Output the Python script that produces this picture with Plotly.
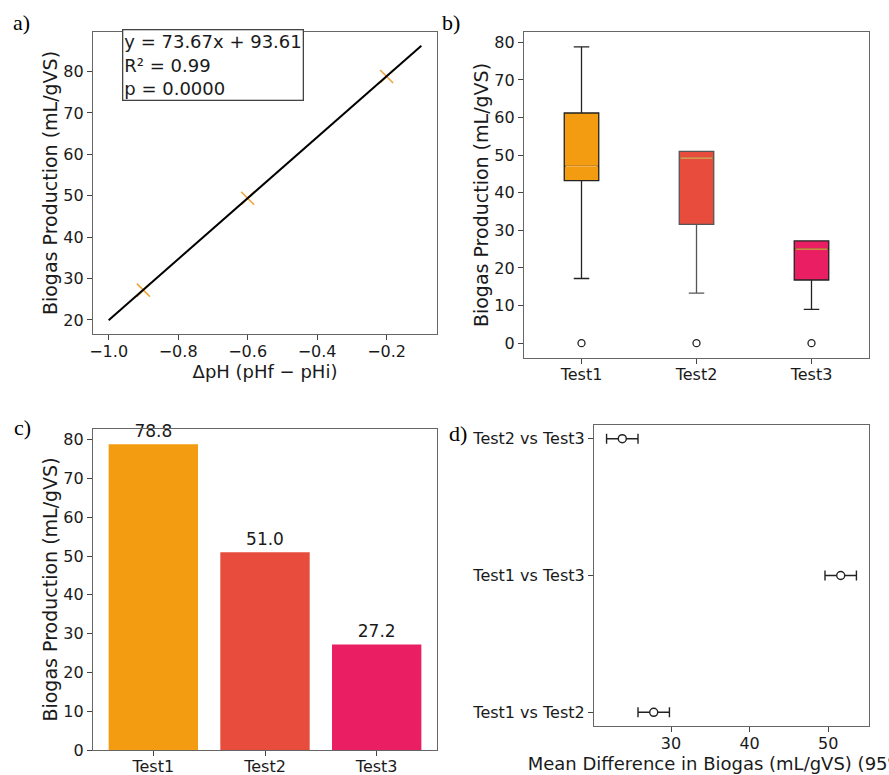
import numpy as np
import plotly.graph_objects as go

# ---------------- data ----------------
tests = ["Test1", "Test2", "Test3"]
colors = ["#F39C12", "#E74C3C", "#E91E63"]

# panel a: pH change vs biogas
delta_ph = [-0.9, -0.6, -0.2]
biogas_pts = [27.2, 49.4, 78.8]
fit_slope, fit_intercept = 73.67, 93.61
fit_x = [-1.0, -0.1]
fit_text = ["y = 73.67x + 93.61", "R² = 0.99", "p = 0.0000"]
a_xticks = [-1.0, -0.8, -0.6, -0.4, -0.2]
a_yticks = [20, 30, 40, 50, 60, 70, 80]

# panel b: box statistics
box_low = [17.2, 13.3, 9.0]
box_q1 = [43.2, 31.6, 16.8]
box_med = [47.0, 49.2, 25.0]
box_q3 = [61.2, 51.0, 27.2]
box_high = [78.8, 51.0, 27.2]
box_outlier = [0.0, 0.0, 0.0]
whisker_colors = ["#222222", "#555555", "#222222"]
b_yticks = [0, 10, 20, 30, 40, 50, 60, 70, 80]

# panel c: maximum biogas
bar_values = [78.8, 51.0, 27.2]
c_yticks = [0, 10, 20, 30, 40, 50, 60, 70, 80]

# panel d: pairwise mean differences with 95% CI
pairs = ["Test1 vs Test2", "Test1 vs Test3", "Test2 vs Test3"]
mean_diff = [27.8, 51.6, 23.8]
ci_half = [2.0, 2.0, 2.0]
d_xticks = [30, 40, 50]

# ---------------- figure ----------------
W, H = 889, 775
FONT = "DejaVu Sans"
TXT = "#1a1a1a"
SPINE = "#666666"

def px_x(a, b):
    return [a / W, b / W]

def px_y(top, bottom):
    return [1 - bottom / H, 1 - top / H]

fig = go.Figure()

# --- panel a ---
fig.add_trace(go.Scatter(
    x=delta_ph, y=biogas_pts, mode="markers", xaxis="x", yaxis="y",
    marker=dict(symbol="x-thin", size=13, color="#F0A53A",
                line=dict(color="#F0A53A", width=1.6)),
    showlegend=False, hoverinfo="skip"))
fit_y = [fit_slope * v + fit_intercept for v in fit_x]
fig.add_trace(go.Scatter(
    x=fit_x, y=fit_y, mode="lines", xaxis="x", yaxis="y",
    line=dict(color="black", width=2), showlegend=False))

# --- panel b ---
bw = 0.3
for i, t in enumerate(tests):
    fig.add_trace(go.Box(
        x=[i], q1=[box_q1[i]], median=[box_med[i]], q3=[box_q3[i]],
        lowerfence=[box_low[i]], upperfence=[box_high[i]],
        xaxis="x2", yaxis="y2", width=bw, whiskerwidth=0.45,
        fillcolor=colors[i], line=dict(color=whisker_colors[i], width=1.3),
        boxpoints=False, showlegend=False, name=t))
for i, t in enumerate(tests):
    fig.add_trace(go.Scatter(
        x=[i - bw / 2 + 0.01, i + bw / 2 - 0.01], y=[box_med[i], box_med[i]],
        mode="lines", xaxis="x2", yaxis="y2",
        line=dict(color="#F7B04A", width=1.4), showlegend=False))
fig.add_trace(go.Scatter(
    x=list(range(len(tests))), y=box_outlier, mode="markers",
    xaxis="x2", yaxis="y2",
    marker=dict(symbol="circle-open", size=7, color="#222",
                line=dict(width=1.3, color="#222")),
    showlegend=False))

# --- panel c ---
fig.add_trace(go.Bar(
    x=list(range(len(tests))), y=bar_values, width=0.8,
    marker=dict(color=colors, line=dict(width=0)),
    text=[f"{v:.1f}" for v in bar_values], textposition="outside",
    textfont=dict(family=FONT, size=17, color=TXT), cliponaxis=False,
    xaxis="x3", yaxis="y3", showlegend=False))

# --- panel d ---
fig.add_trace(go.Scatter(
    x=mean_diff, y=list(range(len(pairs))), mode="markers",
    xaxis="x4", yaxis="y4",
    error_x=dict(type="data", array=ci_half, visible=True,
                 color="#222", thickness=1.4, width=5),
    marker=dict(symbol="circle", size=8, color="white",
                line=dict(color="#222", width=1.4)),
    showlegend=False))

def ax(domain, **kw):
    base = dict(domain=domain, showline=True, mirror=True, linecolor=SPINE,
                linewidth=1.2, ticks="outside", ticklen=5, tickwidth=1.1,
                tickcolor="#444", showgrid=False, zeroline=False,
                automargin=False,
                tickfont=dict(family=FONT, size=16, color=TXT),
                title_font=dict(family=FONT, size=18, color=TXT))
    base.update(kw)
    return base

ytitle = "Biogas Production (mL/gVS)"

fig.update_layout(
    width=W, height=H, margin=dict(l=0, r=0, t=0, b=0, autoexpand=False),
    paper_bgcolor="white", plot_bgcolor="white",
    font=dict(family=FONT, color=TXT),
    xaxis=ax(px_x(93, 437), anchor="y", range=[-1.045, -0.055],
             tickvals=a_xticks, tickformat=".1f", ticklabelstandoff=-2,
             title=dict(text="ΔpH (pHf − pHi)", standoff=4)),
    yaxis=ax(px_y(32, 334), anchor="x", range=[16.6, 89.55],
             tickvals=a_yticks,
             title=dict(text=ytitle, standoff=0, font=dict(size=19))),
    xaxis2=ax(px_x(524, 869), anchor="y2", range=[-0.5, 2.5],
              tickvals=[0, 1, 2], ticktext=tests, ticklabelstandoff=-3),
    yaxis2=ax(px_y(32, 358), anchor="x2", range=[-3.94, 82.74],
              tickvals=b_yticks,
              title=dict(text=ytitle, standoff=0, font=dict(size=19))),
    xaxis3=ax(px_x(93, 437), anchor="y3", range=[-0.54, 2.54],
              tickvals=[0, 1, 2], ticktext=tests, ticklabelstandoff=-3),
    yaxis3=ax(px_y(429, 750), anchor="x3", range=[0, 82.74],
              tickvals=c_yticks,
              title=dict(text=ytitle, standoff=0, font=dict(size=19))),
    xaxis4=ax(px_x(594, 869), anchor="y4", range=[20.2, 55.2],
              tickvals=d_xticks, ticklabelstandoff=-2,
              title=dict(text="Mean Difference in Biogas (mL/gVS) (95% CI)",
                         standoff=4)),
    yaxis4=ax(px_y(425, 726), anchor="x4", range=[-0.1, 2.1],
              tickvals=[0, 1, 2], ticktext=pairs),
)

# regression text box
fig.add_annotation(
    xref="paper", yref="paper", x=122 / W, y=1 - 29 / H,
    xanchor="left", yanchor="top", align="left", showarrow=False,
    text="<br>".join(fit_text),
    font=dict(family=FONT, size=18, color=TXT),
    bordercolor="#444", borderwidth=1.3, borderpad=1, bgcolor="white")

# panel letters
for lab, (lx, ly) in zip(["a)", "b)", "c)", "d)"],
                         [(11, 23), (440, 23), (12, 427), (447, 433)]):
    fig.add_annotation(
        xref="paper", yref="paper", x=lx / W, y=1 - ly / H,
        xanchor="left", yanchor="middle", showarrow=False, text=lab,
        font=dict(family="Liberation Serif", size=22, color="black"))

fig.write_html("out.html")
